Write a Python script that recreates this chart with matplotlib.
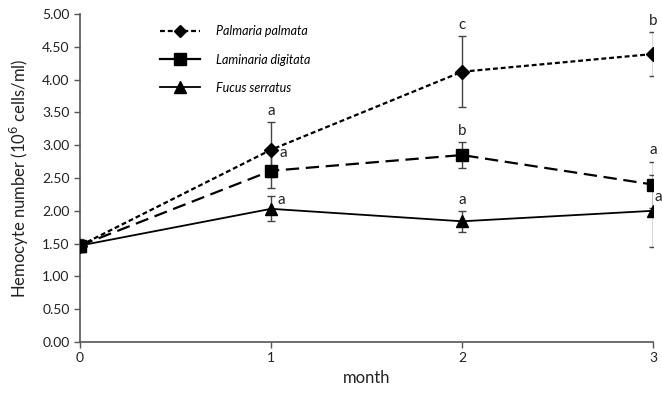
import matplotlib
matplotlib.use("Agg")
import matplotlib.pyplot as plt
from matplotlib.lines import Line2D
from matplotlib.ticker import FormatStrFormatter

plt.rcParams['font.family'] = ['Lato', 'DejaVu Sans']

months = [0, 1, 2, 3]
palmaria = [1.47, 2.93, 4.12, 4.39]
palmaria_err = [0.0, 0.42, 0.54, 0.33]
laminaria = [1.47, 2.61, 2.85, 2.40]
laminaria_err = [0.0, 0.27, 0.20, 0.35]
fucus = [1.47, 2.03, 1.84, 2.00]
fucus_err = [0.10, 0.19, 0.16, 0.55]

palmaria_letters = ["", "a", "c", "b"]
laminaria_letters = ["", "a", "b", "a"]
fucus_letters = ["", "a", "a", "a"]

fig = plt.figure(figsize=(6.62, 3.93), dpi=100)
ax = fig.add_axes([80/662, 1-342/393, (653-80)/662, (342-14)/393])

ebkw = dict(ecolor='#444444', elinewidth=1.0, capsize=3, capthick=1.0, color='black', zorder=3)
ax.errorbar(months, palmaria, yerr=palmaria_err, linestyle=(0, (2.2, 1.3)), linewidth=1.6,
            marker='D', markersize=7, **ebkw)
ax.errorbar(months, laminaria, yerr=laminaria_err, linestyle=(0, (6, 3)), linewidth=1.6,
            marker='s', markersize=9, **ebkw)
ax.errorbar(months, fucus, yerr=fucus_err, linestyle='-', linewidth=1.3,
            marker='^', markersize=9, **ebkw)

fs = 11
# Palmaria letters above error bars
for x, y, e, t in zip(months, palmaria, palmaria_err, palmaria_letters):
    if t:
        ax.annotate(t, (x, y + e), xytext=(0, 3), textcoords='offset points',
                    ha='center', va='bottom', fontsize=fs, color='#222222')
# Laminaria
ax.annotate(laminaria_letters[1], (months[1], laminaria[1]), xytext=(6, 8), textcoords='offset points',
            ha='left', va='bottom', fontsize=fs, color='#222222')
ax.annotate(laminaria_letters[2], (months[2], laminaria[2] + laminaria_err[2]), xytext=(0, 3),
            textcoords='offset points', ha='center', va='bottom', fontsize=fs, color='#222222')
ax.annotate(laminaria_letters[3], (months[3], laminaria[3] + laminaria_err[3]), xytext=(0, 3),
            textcoords='offset points', ha='center', va='bottom', fontsize=fs, color='#222222')
# Fucus
ax.annotate(fucus_letters[1], (months[1], fucus[1] + fucus_err[1]), xytext=(5, -8),
            textcoords='offset points', ha='left', va='bottom', fontsize=fs, color='#222222')
ax.annotate(fucus_letters[2], (months[2], fucus[2] + fucus_err[2]), xytext=(0, 3),
            textcoords='offset points', ha='center', va='bottom', fontsize=fs, color='#222222')
ax.annotate(fucus_letters[3], (months[3], fucus[3]), xytext=(1, 5),
            textcoords='offset points', ha='left', va='bottom', fontsize=fs, color='#222222',
            annotation_clip=False)

ax.set_xlim(0, 3)
ax.set_ylim(0, 5)
ax.set_xticks(months)
ax.set_yticks([i * 0.5 for i in range(11)])
ax.yaxis.set_major_formatter(FormatStrFormatter('%.2f'))
ax.spines['top'].set_visible(False)
ax.spines['right'].set_visible(False)
for s in ['left', 'bottom']:
    ax.spines[s].set_color('#555555')
    ax.spines[s].set_linewidth(1.2)
ax.tick_params(axis='both', labelsize=10, colors='#555555', labelcolor='#222222', length=4, width=1.0)
ax.set_xlabel('month', fontsize=12, color='#222222', labelpad=4)
ax.set_ylabel('Hemocyte number (10$^6$ cells/ml)', fontsize=12, color='#222222', labelpad=8)

handles = [
    Line2D([], [], color='black', linestyle=(0, (2.2, 1.3)), linewidth=1.6, marker='D', markersize=6),
    Line2D([], [], color='black', linestyle='-', linewidth=1.6, marker='s', markersize=8),
    Line2D([], [], color='black', linestyle='-', linewidth=1.3, marker='^', markersize=8),
]
labels = ['Palmaria palmata', 'Laminaria digitata', 'Fucus serratus']
leg = ax.legend(handles, labels, loc='upper left', bbox_to_anchor=(0.12, 1.0), frameon=False,
                prop={'style': 'italic', 'size': 9}, handlelength=3.2, labelspacing=1.3,
                handletextpad=1.3)

fig.savefig('out.png', dpi=100)
